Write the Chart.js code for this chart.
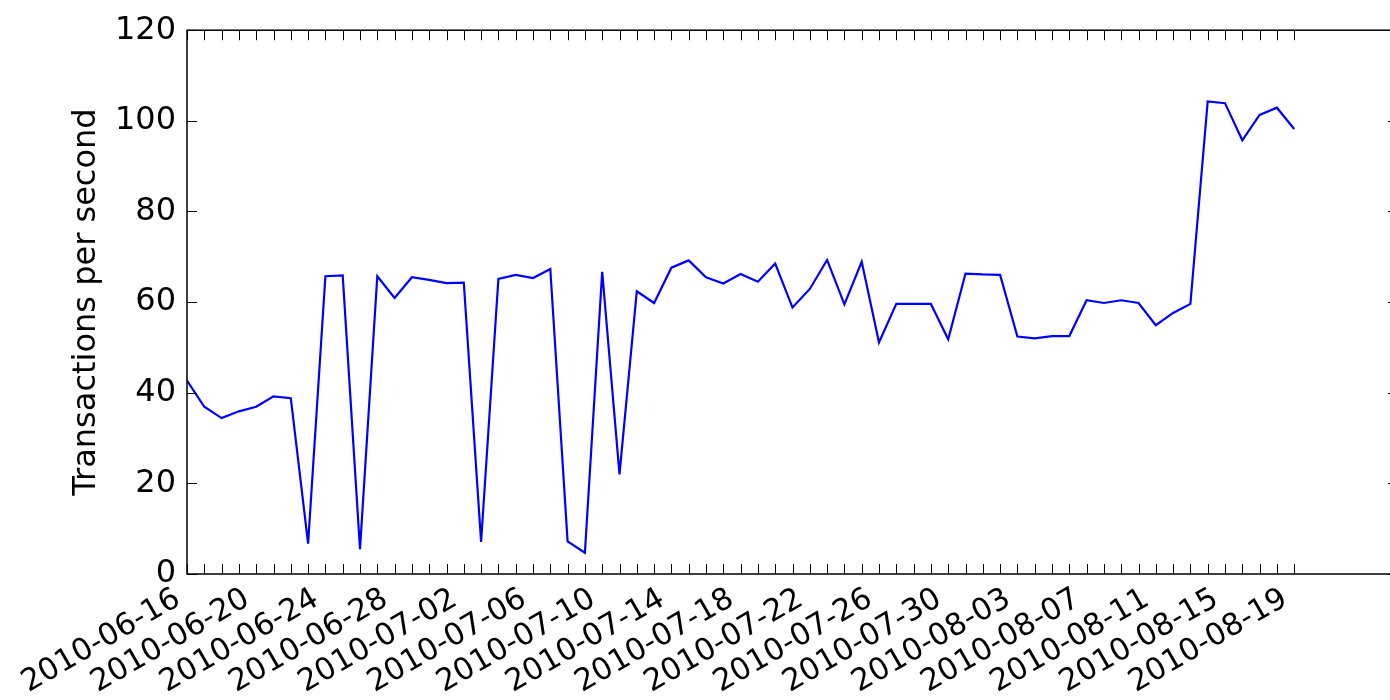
<!DOCTYPE html>
<html>
<head>
<meta charset="utf-8">
<script src="https://cdn.jsdelivr.net/npm/chart.js@4/dist/chart.umd.min.js"></script>
<style>
  html, body { margin: 0; padding: 0; background: #fff; overflow: hidden; }
  #wrap { width: 1390px; height: 700px; overflow: hidden; }
</style>
</head>
<body>
<div id="wrap"><canvas id="tps" width="1400" height="700"></canvas></div>
<script>
// one value per day, starting 2010-06-16
const tps = [
  42.7, 36.9, 34.4, 35.9, 36.9, 39.2, 38.8, 6.7, 65.7, 65.9,
  5.5, 65.7, 60.9, 65.5, 64.9, 64.2, 64.3, 7.1, 65.1, 66.0,
  65.3, 67.3, 7.2, 4.7, 66.7, 22.0, 62.4, 59.8, 67.6, 69.2,
  65.5, 64.1, 66.2, 64.5, 68.5, 58.8, 62.9, 69.3, 59.5, 68.9,
  51.1, 59.6, 59.6, 59.6, 51.8, 66.3, 66.1, 66.0, 52.4, 52.0,
  52.5, 52.5, 60.4, 59.8, 60.4, 59.8, 54.9, 57.6, 59.6, 104.3,
  103.9, 95.7, 101.3, 102.9, 98.2,
];

// labelled ticks, every 4 days
const tickDays = [0, 4, 8, 12, 16, 20, 24, 28, 32, 36, 40, 44, 48, 52, 56, 60, 64];
const tickLabels = [
  "2010-06-16", "2010-06-20", "2010-06-24", "2010-06-28", "2010-07-02",
  "2010-07-06", "2010-07-10", "2010-07-14", "2010-07-18", "2010-07-22",
  "2010-07-26", "2010-07-30", "2010-08-03", "2010-08-07", "2010-08-11",
  "2010-08-15", "2010-08-19",
];
const yTicks = [0, 20, 40, 60, 80, 100, 120];

const font = "DejaVu Sans";

// matplotlib style frame with inward ticks
const frame = {
  id: "frame",
  afterDatasetsDraw(chart) {
    const { ctx, chartArea: a, scales } = chart;
    ctx.save();
    ctx.strokeStyle = "#000";
    ctx.lineWidth = 1;
    ctx.beginPath();
    tps.forEach((v, d) => {
      const px = Math.round(scales.x.getPixelForValue(d)) + 0.5;
      ctx.moveTo(px, a.top);
      ctx.lineTo(px, a.top + 10);
      ctx.moveTo(px, a.bottom);
      ctx.lineTo(px, a.bottom - 10);
    });
    yTicks.forEach((v) => {
      const py = Math.round(scales.y.getPixelForValue(v)) + 0.5;
      ctx.moveTo(a.left, py);
      ctx.lineTo(a.left + 10, py);
      ctx.moveTo(a.right, py);
      ctx.lineTo(a.right - 10, py);
    });
    ctx.stroke();
    ctx.lineWidth = 1.5;
    ctx.strokeRect(a.left, a.top, a.right - a.left, a.bottom - a.top);
    ctx.restore();
  },
};

new Chart("tps", {
  type: "line",
  data: {
    datasets: [
      {
        data: tps.map((v, i) => ({ x: i, y: v })),
        borderColor: "#0000ff",
        borderWidth: 2.2,
        pointRadius: 0,
        tension: 0,
        fill: false,
      },
    ],
  },
  options: {
    responsive: false,
    animation: false,
    devicePixelRatio: 1,
    layout: { padding: { top: 18, right: 2, left: 0, bottom: 0 } },
    plugins: {
      legend: { display: false },
      tooltip: { enabled: false },
    },
    scales: {
      x: {
        type: "linear",
        min: 0,
        max: 70,
        grid: { display: false, drawTicks: false },
        border: { display: false },
        afterBuildTicks: (scale) => {
          scale.ticks = tickDays.map((d) => ({ value: d }));
        },
        afterFit: (scale) => {
          scale.height = 126;
        },
        ticks: {
          autoSkip: false,
          minRotation: 30,
          maxRotation: 30,
          padding: 7,
          labelOffset: -9,
          color: "#000",
          font: { family: font, size: 30.5 },
          callback: (v) => tickLabels[tickDays.indexOf(v)],
        },
      },
      y: {
        min: 0,
        max: 120,
        grid: { display: false, drawTicks: false },
        border: { display: false },
        afterFit: (scale) => {
          scale.width = 187;
        },
        ticks: {
          stepSize: 20,
          padding: 11,
          color: "#000",
          font: { family: font, size: 32 },
        },
        title: {
          display: true,
          text: "Transactions per second",
          color: "#000",
          font: { family: font, size: 32 },
          padding: { top: 67, bottom: 0 },
        },
      },
    },
  },
  plugins: [frame],
});
</script>
</body>
</html>
